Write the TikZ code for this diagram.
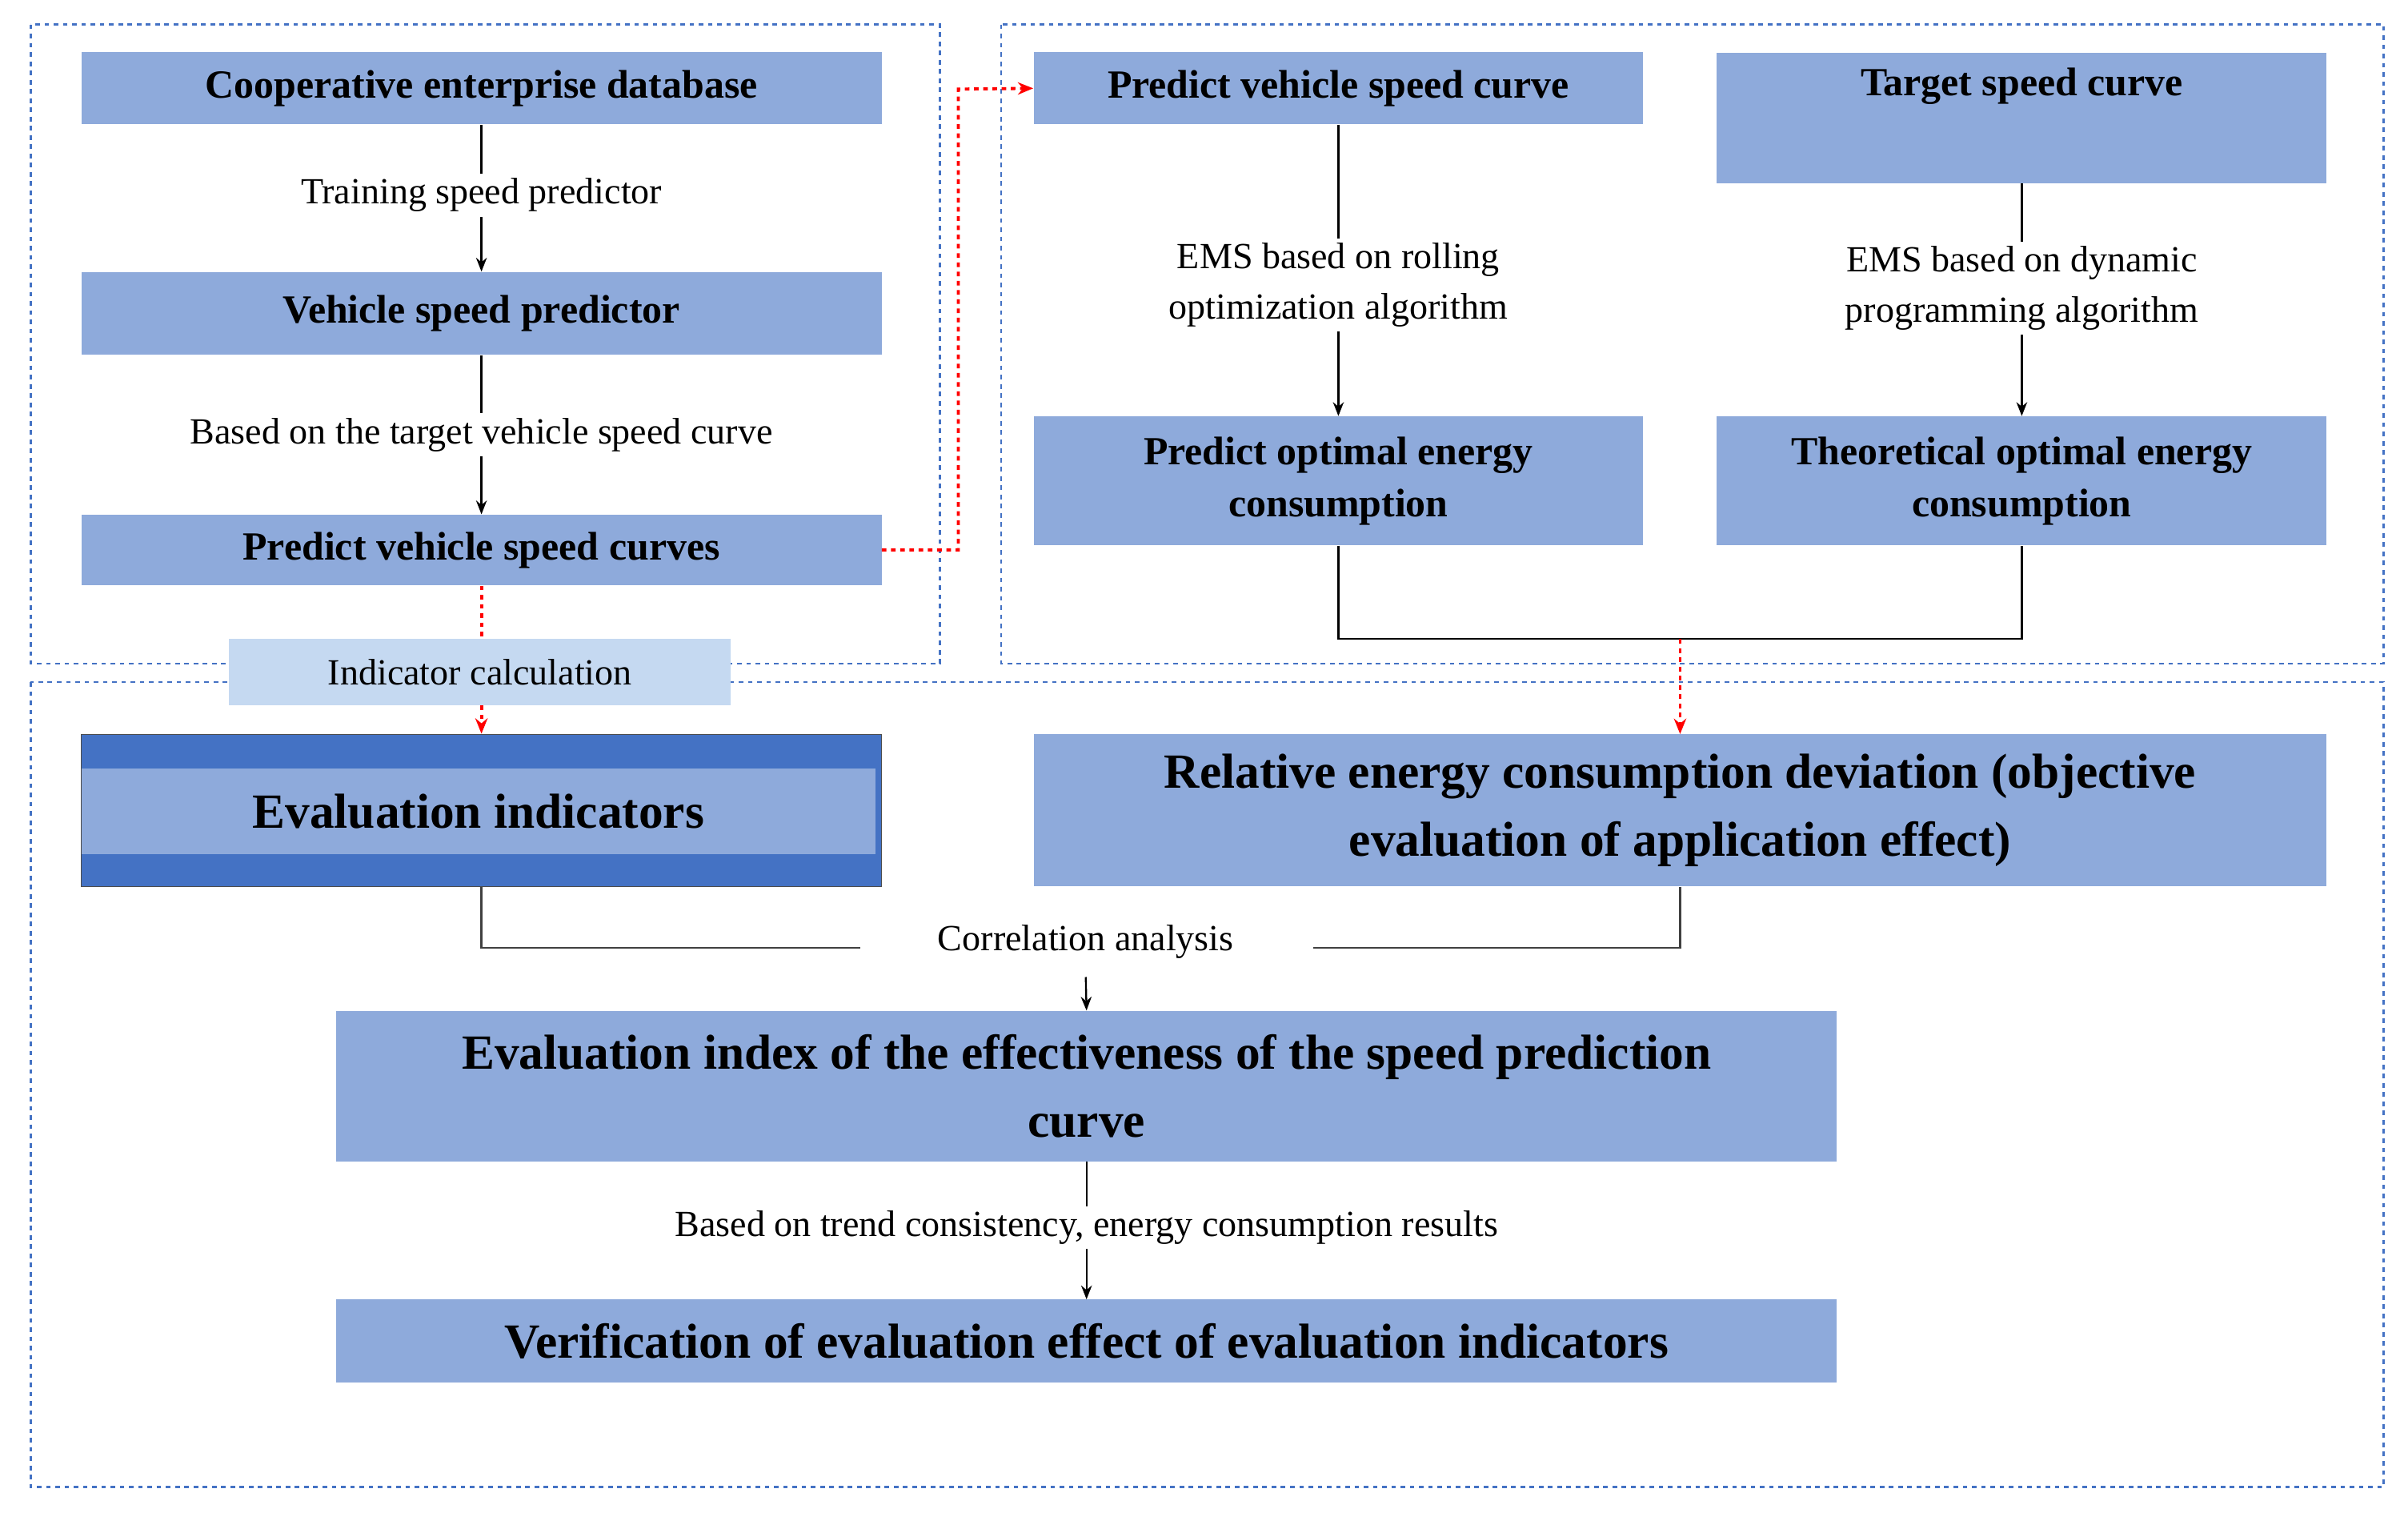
\documentclass[tikz,border=0pt]{standalone}
\usepackage{fontspec}
\setmainfont{Liberation Serif}
\usetikzlibrary{arrows.meta}
\definecolor{bx}{HTML}{8EAADB}
\definecolor{dk}{HTML}{4472C4}
\definecolor{lt}{HTML}{C5D9F1}
\begin{document}
\begin{tikzpicture}[x=1pt,y=-1pt,
 box/.style={fill=bx,inner sep=0pt,align=center,font=\fontsize{26}{34}\selectfont\bfseries},
 big/.style={box,font=\fontsize{32}{44}\selectfont\bfseries},
 lab/.style={fill=white,inner sep=3pt,align=center,font=\fontsize{24}{33}\selectfont},
 reg/.style={draw=dk,dashed,line width=1.3pt},
 ar/.style={-{Stealth[length=9pt,width=7pt]},line width=1.2pt},
 red/.style={draw=red,dashed,line width=2pt,-{Stealth[length=10pt,width=8pt]}}]
\useasboundingbox (0,0) rectangle (1568,990);
\draw[reg] (20,16) rectangle (612,432);
\draw[reg] (652,16) rectangle (1552,432);
\draw[reg] (20,444) rectangle (1552,968);
% left column
\node[box,minimum width=521,minimum height=47] (coop) at (313.5,57.5) {Cooperative enterprise database};
\node[box,minimum width=521,minimum height=54] (vsp) at (313.5,204) {Vehicle speed predictor};
\node[box,minimum width=521,minimum height=46] (pvc) at (313.5,358) {Predict vehicle speed curves};
\draw[ar] (coop.south) -- (vsp.north) node[lab,pos=0.48]{Training speed predictor};
\draw[ar] (vsp.south) -- (pvc.north) node[lab,pos=0.5]{Based on the target vehicle speed curve};
% evaluation indicators
\node[fill=dk,draw=black!70,line width=0.8pt,minimum width=521,minimum height=99,inner sep=0pt] (ei) at (313.5,527.5) {};
\node[box,minimum width=517,minimum height=56,font=\fontsize{32}{40}\selectfont\bfseries] (eit) at (311.5,528) {Evaluation indicators};
\draw[red] (pvc.south) -- (ei.north);
\node[fill=lt,minimum width=327,minimum height=43,inner sep=0pt,font=\fontsize{24}{30}\selectfont] (ic) at (312.5,437.5) {Indicator calculation};
% right top
\node[box,minimum width=397,minimum height=47] (pvc2) at (871.5,57.5) {Predict vehicle speed curve};
\node[box,minimum width=397,minimum height=85,anchor=north] (tsc) at (1316.5,34) {};
\node[box,anchor=north] at (1316.5,44) {Target speed curve};
\node[box,minimum width=397,minimum height=84] (poe) at (871.5,313) {Predict optimal energy\\consumption};
\node[box,minimum width=397,minimum height=84] (toe) at (1316.5,313) {Theoretical optimal energy\\consumption};
\draw[ar] (pvc2.south) -- (poe.north) node[lab,pos=0.55]{EMS based on rolling\\optimization algorithm};
\draw[ar] (tsc.south) -- (toe.north) node[lab,pos=0.45]{EMS based on dynamic\\programming algorithm};
\coordinate (j) at (1094,416);
\draw[line width=1.2pt] (poe.south) |- (j) -| (toe.south);
\node[big,minimum width=842,minimum height=99] (red) at (1094,527.5) {Relative energy consumption deviation (objective\\evaluation of application effect)};
\draw[red] (j) -- (red.north);
\draw[red] (pvc.east) -- (624,358) -- (624,58) -- (pvc2.west);
% correlation
\node[font=\fontsize{24}{30}\selectfont] (ca) at (707,613) {Correlation analysis};
\node[big,minimum width=977,minimum height=98] (eix) at (707.5,707) {Evaluation index of the effectiveness of the speed prediction\\curve};
\draw[line width=1.2pt,black!75] (ei.south) |- (560,617);
\draw[line width=1.2pt,black!75] (red.south) |- (855,617);
\draw[ar] (707,636) -- (eix.north);
\node[big,minimum width=977,minimum height=54] (ver) at (707.5,873) {Verification of evaluation effect of evaluation indicators};
\draw[ar] (eix.south) -- (ver.north) node[lab,pos=0.48]{Based on trend consistency, energy consumption results};
\end{tikzpicture}
\end{document}
